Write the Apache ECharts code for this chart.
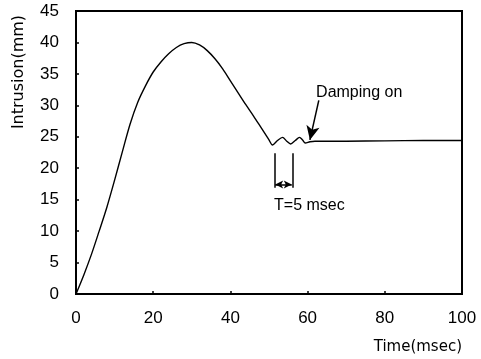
<!DOCTYPE html>
<html><head><meta charset="utf-8">
<script src="https://cdn.jsdelivr.net/npm/echarts@6/dist/echarts.min.js"></script>
<style>html,body{margin:0;padding:0;background:#fff}#c{width:481px;height:359px}</style>
</head><body><div id="c"></div>
<script>
// Data
const times     = [0, 2, 4, 6, 8, 10, 12, 14, 16, 18, 20, 22, 24, 26, 28, 30, 32, 34, 36, 38, 40, 42, 44, 46, 48, 50, 50.9, 52.2, 53.5, 54.6, 55.6, 56.8, 57.9, 58.7, 59.4, 60.6, 61.9, 70, 80, 90, 100];
const intrusion = [0, 3.0, 6.3, 10.0, 13.8, 18.1, 22.6, 27.0, 30.5, 33.1, 35.3, 36.9, 38.2, 39.2, 39.8, 40.0, 39.6, 38.7, 37.4, 35.8, 33.9, 32.0, 30.1, 28.3, 26.4, 24.5, 23.7, 24.4, 24.9, 24.3, 23.85, 24.4, 24.9, 24.5, 24.0, 24.2, 24.3, 24.3, 24.35, 24.4, 24.4];
const xTickValues = [0, 20, 40, 60, 80, 100];
const yTickValues = [0, 5, 10, 15, 20, 25, 30, 35, 40, 45];
const xAxisTitle = 'Time(msec)';
const yAxisTitle = 'Intrusion(mm)';
const dampingLabel = 'Damping on';
const periodLabel = 'T=5 msec';

const chart = echarts.init(document.getElementById('c'), null, {renderer: 'canvas'});
const tickFont = {fontFamily: '"Liberation Sans Narrow","Liberation Sans",Arial,sans-serif', fontSize: 17, color: '#000'};
const txtFamily = '"Liberation Sans",Arial,sans-serif';

function axisCommon(vals) {
  return {
    type: 'value',
    min: vals[0], max: vals[vals.length - 1], interval: vals[1] - vals[0],
    axisLine: {show: true, lineStyle: {color: '#000', width: 2}},
    axisTick: {show: true, inside: true, length: 3, lineStyle: {color: '#000', width: 1.5}},
    splitLine: {show: false}
  };
}

const option = {
  animation: false,
  backgroundColor: '#fff',
  grid: {left: 76, right: 19, top: 11, bottom: 65, show: true, borderColor: '#000', borderWidth: 2, backgroundColor: 'transparent'},
  xAxis: Object.assign(axisCommon(xTickValues), {axisLabel: Object.assign({margin: 16}, tickFont)}),
  yAxis: Object.assign(axisCommon(yTickValues), {axisLabel: Object.assign({margin: 17}, tickFont)}),
  series: [{
    type: 'line',
    data: times.map((t, i) => [t, intrusion[i]]),
    showSymbol: false,
    smooth: 0.3,
    lineStyle: {color: '#000', width: 1.4},
    markLine: {
      silent: true,
      animation: false,
      label: {show: false},
      lineStyle: {color: '#000', width: 1.5, type: 'solid'},
      symbol: ['none', 'none'],
      data: [
        [{coord: [62.9, 30.8], symbol: 'none'}, {coord: [60.6, 24.5], symbol: 'arrow', symbolSize: [10, 14]}],
        [{coord: [51.4, 22.4], symbol: 'none'}, {coord: [51.4, 16.9], symbol: 'none'}],
        [{coord: [56.1, 22.4], symbol: 'none'}, {coord: [56.1, 16.9], symbol: 'none'}],
        [{coord: [51.6, 17.4], symbol: 'arrow', symbolSize: [6, 8]}, {coord: [55.9, 17.4], symbol: 'arrow', symbolSize: [6, 8]}]
      ]
    }
  }]
};
chart.setOption(option);

const pDamp = chart.convertToPixel({gridIndex: 0}, [62.2, 32.0]);
const pPer = chart.convertToPixel({gridIndex: 0}, [51.3, 14.0]);
chart.setOption({
  graphic: [
    {type: 'text', x: 19, y: 72, rotation: Math.PI / 2,
     style: {text: yAxisTitle, fontFamily: '"DejaVu Sans",sans-serif', fontSize: 16, fill: '#000', align: 'center', verticalAlign: 'middle'}},
    {type: 'text', x: 462, y: 347,
     style: {text: xAxisTitle, fontFamily: '"DejaVu Sans",sans-serif', fontSize: 15, fill: '#000', align: 'right', verticalAlign: 'middle'}},
    {type: 'text', x: pDamp[0], y: pDamp[1],
     style: {text: dampingLabel, fontFamily: txtFamily, fontSize: 16, fill: '#000', align: 'left', verticalAlign: 'middle'}},
    {type: 'text', x: pPer[0], y: pPer[1],
     style: {text: periodLabel, fontFamily: txtFamily, fontSize: 16, fill: '#000', align: 'left', verticalAlign: 'middle'}}
  ]
});
</script>
</body></html>
